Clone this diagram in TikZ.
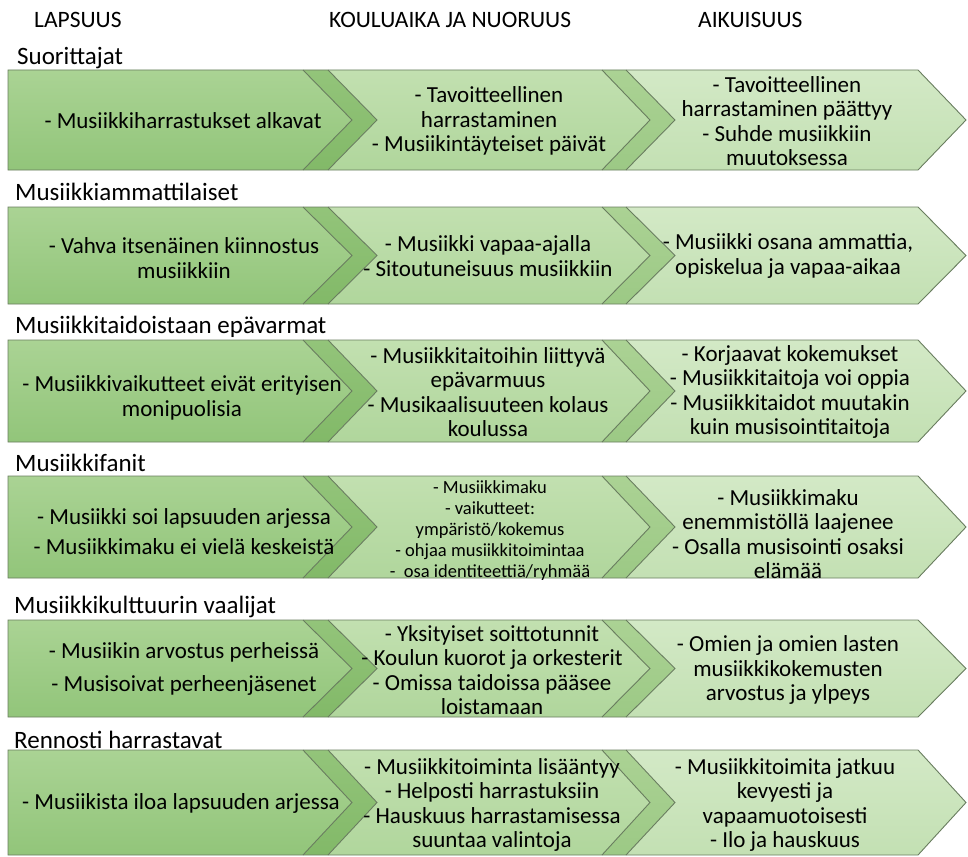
\documentclass[tikz,border=0pt]{standalone}
\usepackage{fontspec}
\setmainfont{Carlito}
\definecolor{aT}{HTML}{AAD394}
\definecolor{aB}{HTML}{92C57A}
\definecolor{dT}{HTML}{93C47A}
\definecolor{dB}{HTML}{82B968}
\definecolor{bT}{HTML}{C2E0B0}
\definecolor{bB}{HTML}{B0D69C}
\definecolor{eT}{HTML}{ABD294}
\definecolor{eB}{HTML}{9CC985}
\definecolor{cT}{HTML}{D3E9C6}
\definecolor{cB}{HTML}{C3E0B3}
\definecolor{edgec}{RGB}{105,125,95}
\tikzset{
  outl/.style={draw=edgec, line width=0.9pt, line join=miter},
  body/.style={align=center, font=\fontsize{23}{24.3}\selectfont, inner sep=0pt, text=black},
  small/.style={align=center, font=\fontsize{18.5}{21}\selectfont, inner sep=0pt, text=black},
  ttl/.style={anchor=west, font=\fontsize{25}{27}\selectfont, inner sep=0pt},
  hdr/.style={anchor=west, font=\fontsize{23.5}{25}\selectfont, inner sep=0pt},
}
\newcommand\chevrow[2]{%
  \pgfmathsetmacro\ym{-(#1+#2)/2}%
  \def\yt{-#1}\def\yb{-#2}%
  \shade[top color=aT,bottom color=aB] (8,\yt) -- (303,\yt) -- (352,\ym) -- (303,\yb) -- (8,\yb) -- cycle;
  \shade[top color=dT,bottom color=dB] (303,\yt) -- (328,\yt) -- (377,\ym) -- (328,\yb) -- (303,\yb) -- (352,\ym) -- cycle;
  \shade[top color=bT,bottom color=bB] (328,\yt) -- (602,\yt) -- (650,\ym) -- (602,\yb) -- (328,\yb) -- (377,\ym) -- cycle;
  \shade[top color=eT,bottom color=eB] (602,\yt) -- (626,\yt) -- (675,\ym) -- (626,\yb) -- (602,\yb) -- (650,\ym) -- cycle;
  \shade[top color=cT,bottom color=cB] (626,\yt) -- (918,\yt) -- (966,\ym) -- (918,\yb) -- (626,\yb) -- (675,\ym) -- cycle;
  \draw[outl] (8,\yt) -- (918,\yt) -- (966,\ym) -- (918,\yb) -- (8,\yb) -- cycle;
  \draw[outl] (303,\yt) -- (352,\ym) -- (303,\yb);
  \draw[outl] (328,\yt) -- (377,\ym) -- (328,\yb);
  \draw[outl] (602,\yt) -- (650,\ym) -- (602,\yb);
  \draw[outl] (626,\yt) -- (675,\ym) -- (626,\yb);
}
\begin{document}
\begin{tikzpicture}[x=1pt,y=1pt]
\useasboundingbox[fill=white] (0,0) rectangle (968,-856);

% headers
\node[hdr] (h1) at (34,-20) {LAPSUUS};
\node[hdr] (h2) at (329,-20) {KOULUAIKA JA NUORUUS};
\node[hdr] (h3) at (698,-20) {AIKUISUUS};

% rows
\chevrow{70}{170}
\chevrow{207}{304}
\chevrow{340}{442}
\chevrow{476}{578}
\chevrow{620}{717}
\chevrow{750}{855}

% titles
\node[ttl] (t1) at (17,-58) {Suorittajat};
\node[ttl] (t2) at (15,-192) {Musiikkiammattilaiset};
\node[ttl] (t3) at (15,-327) {Musiikkitaidoistaan epävarmat};
\node[ttl] (t4) at (15,-463) {Musiikkifanit};
\node[ttl] (t5) at (14,-607) {Musiikkikulttuurin vaalijat};
\node[ttl] (t6) at (14,-740) {Rennosti harrastavat};

% row 1
\node[body] (r1a) at (183,-121) {- Musiikkiharrastukset alkavat};
\node[body] (r1b) at (489,-121) {- Tavoitteellinen\\harrastaminen\\- Musiikintäyteiset päivät};
\node[body] (r1c) at (787,-121) {- Tavoitteellinen\\harrastaminen päättyy\\- Suhde musiikkiin\\muutoksessa};

% row 2
\node[body] (r2a) at (184,-258) {- Vahva itsenäinen kiinnostus\\musiikkiin};
\node[body] (r2b) at (488,-256) {- Musiikki vapaa-ajalla\\- Sitoutuneisuus musiikkiin};
\node[body] (r2c) at (788,-256) {- Musiikki osana ammattia,\\opiskelua ja vapaa-aikaa};

% row 3
\node[body] (r3a) at (182,-398) {- Musiikkivaikutteet eivät erityisen\\monipuolisia};
\node[body] (r3b) at (488,-392) {- Musiikkitaitoihin liittyvä\\epävarmuus\\- Musikaalisuuteen kolaus\\koulussa};
\node[body] (r3c) at (790,-392) {- Korjaavat kokemukset\\- Musiikkitaitoja voi oppia\\- Musiikkitaidot muutakin\\kuin musisointitaitoja};

% row 4
\node[body,font=\fontsize{23}{30}\selectfont] (r4a) at (184,-532) {- Musiikki soi lapsuuden arjessa\\- Musiikkimaku ei vielä keskeistä};
\node[small] (r4b) at (490,-531) {- Musiikkimaku\\- vaikutteet:\\ympäristö/kokemus\\- ohjaa musiikkitoimintaa\\-\ \ osa identiteettiä/ryhmää};
\node[body] (r4c) at (788,-534) {- Musiikkimaku\\enemmistöllä laajenee\\- Osalla musisointi osaksi\\elämää};

% row 5
\node[body,font=\fontsize{23}{33}\selectfont] (r5a) at (184,-669) {- Musiikin arvostus perheissä\\- Musisoivat perheenjäsenet};
\node[body] (r5b) at (492,-670) {- Yksityiset soittotunnit\\- Koulun kuorot ja orkesterit\\- Omissa taidoissa pääsee\\loistamaan};
\node[body] (r5c) at (788,-670) {- Omien ja omien lasten\\musiikkikokemusten\\arvostus ja ylpeys};

% row 6
\node[body] (r6a) at (181,-803) {- Musiikista iloa lapsuuden arjessa};
\node[body] (r6b) at (492,-805) {- Musiikkitoiminta lisääntyy\\- Helposti harrastuksiin\\- Hauskuus harrastamisessa\\suuntaa valintoja};
\node[body] (r6c) at (785,-805) {- Musiikkitoimita jatkuu\\kevyesti ja\\vapaamuotoisesti\\- Ilo ja hauskuus};
\end{tikzpicture}
\end{document}
